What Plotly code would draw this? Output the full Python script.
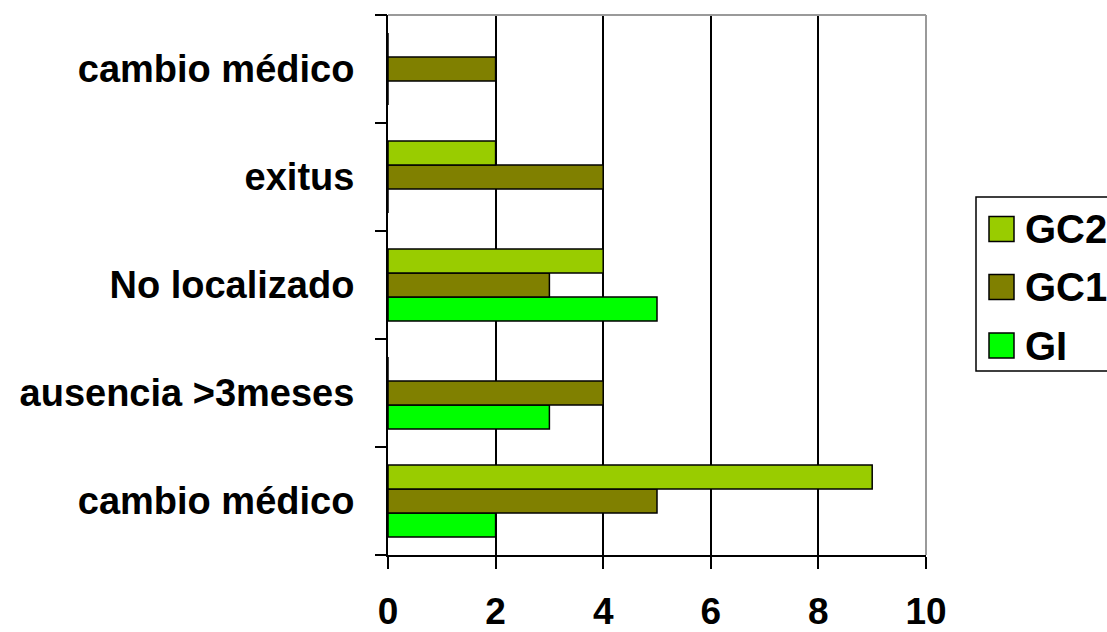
import plotly.graph_objects as go

# Reasons for loss to follow-up, per study group (bottom to top)
categories = ["cambio médico", "ausencia >3meses", "No localizado", "exitus", "cambio médico"]
series_names = ["GI", "GC1", "GC2"]
gi_values = [2, 3, 5, 0, 0]
gc1_values = [5, 4, 3, 4, 2]
gc2_values = [9, 0, 4, 2, 0]
x_ticks = [0, 2, 4, 6, 8, 10]

colors = {"GI": "#00FF00", "GC1": "#808000", "GC2": "#99CC00"}
values = {"GI": gi_values, "GC1": gc1_values, "GC2": gc2_values}

W, H = 1107, 632
L, R, T, B = 388, 926, 15, 555  # plot area in pixels
FONT = "Liberation Sans, Arial, sans-serif"

positions = list(range(len(categories)))

fig = go.Figure()
for name in series_names:
    fig.add_trace(go.Bar(
        y=positions,
        x=values[name],
        name=name,
        orientation="h",
        marker=dict(color=colors[name], line=dict(color="black", width=1.5)),
        showlegend=False,
    ))

# invisible trace to activate the secondary y axis carrying the boundary ticks
fig.add_trace(go.Scatter(x=[None], y=[None], yaxis="y2", showlegend=False, hoverinfo="skip"))


def px_x(px):
    return (px - L) / (R - L)


def px_y(py):
    return (B - py) / (B - T)


fig.update_layout(
    width=W,
    height=H,
    margin=dict(l=L, r=W - R, t=T, b=H - B, pad=0, autoexpand=False),
    paper_bgcolor="white",
    plot_bgcolor="white",
    barmode="group",
    bargap=1 / 3,
    bargroupgap=0,
    font=dict(family=FONT, size=36, color="black"),
    xaxis=dict(
        range=[0, 10],
        tickvals=x_ticks,
        ticktext=[str(v) for v in x_ticks],
        showgrid=True,
        gridcolor="black",
        gridwidth=2,
        zeroline=False,
        showline=True,
        linecolor="black",
        linewidth=2,
        ticks="outside",
        ticklen=12,
        tickwidth=2,
        tickcolor="black",
        ticklabelstandoff=11,
        automargin=False,
        tickfont=dict(family=FONT, size=37, weight="bold", color="black"),
    ),
    yaxis=dict(
        range=[-0.5, len(categories) - 0.5],
        tickvals=positions,
        ticktext=categories,
        showgrid=False,
        zeroline=False,
        showline=True,
        linecolor="black",
        linewidth=2,
        ticks="",
        ticklabelstandoff=24,
        automargin=False,
        tickfont=dict(family=FONT, size=38, weight="bold", color="black"),
    ),
    yaxis2=dict(
        overlaying="y",
        side="left",
        range=[-0.5, len(categories) - 0.5],
        tickvals=[p - 0.5 for p in positions] + [len(categories) - 0.5],
        showticklabels=False,
        showgrid=False,
        zeroline=False,
        showline=False,
        automargin=False,
        ticks="outside",
        ticklen=12,
        tickwidth=2,
        tickcolor="black",
    ),
)

# gray frame on the top and right edges of the plot area
fig.add_shape(type="line", xref="paper", yref="paper", x0=0, x1=1, y0=1, y1=1,
              line=dict(color="#9a9a9a", width=2), layer="above")
fig.add_shape(type="line", xref="paper", yref="paper", x0=1, x1=1, y0=0, y1=1,
              line=dict(color="#9a9a9a", width=2), layer="above")

# legend box, running off the right side of the canvas
fig.add_shape(type="rect", xref="paper", yref="paper",
              x0=px_x(976), x1=px_x(1130), y0=px_y(371), y1=px_y(197),
              line=dict(color="black", width=1.5), fillcolor="white", layer="above")

legend_rows = {"GC2": 229, "GC1": 287, "GI": 345.5}
for name in ["GC2", "GC1", "GI"]:
    cy = legend_rows[name]
    fig.add_shape(type="rect", xref="paper", yref="paper",
                  x0=px_x(989), x1=px_x(1014), y0=px_y(cy + 12.5), y1=px_y(cy - 12.5),
                  line=dict(color="black", width=1.5), fillcolor=colors[name], layer="above")
    fig.add_annotation(xref="paper", yref="paper", x=px_x(1023), y=px_y(cy),
                       text=name, showarrow=False, xanchor="left", yanchor="middle",
                       font=dict(family=FONT, size=40, weight="bold", color="black"))

fig.write_html("out.html")
